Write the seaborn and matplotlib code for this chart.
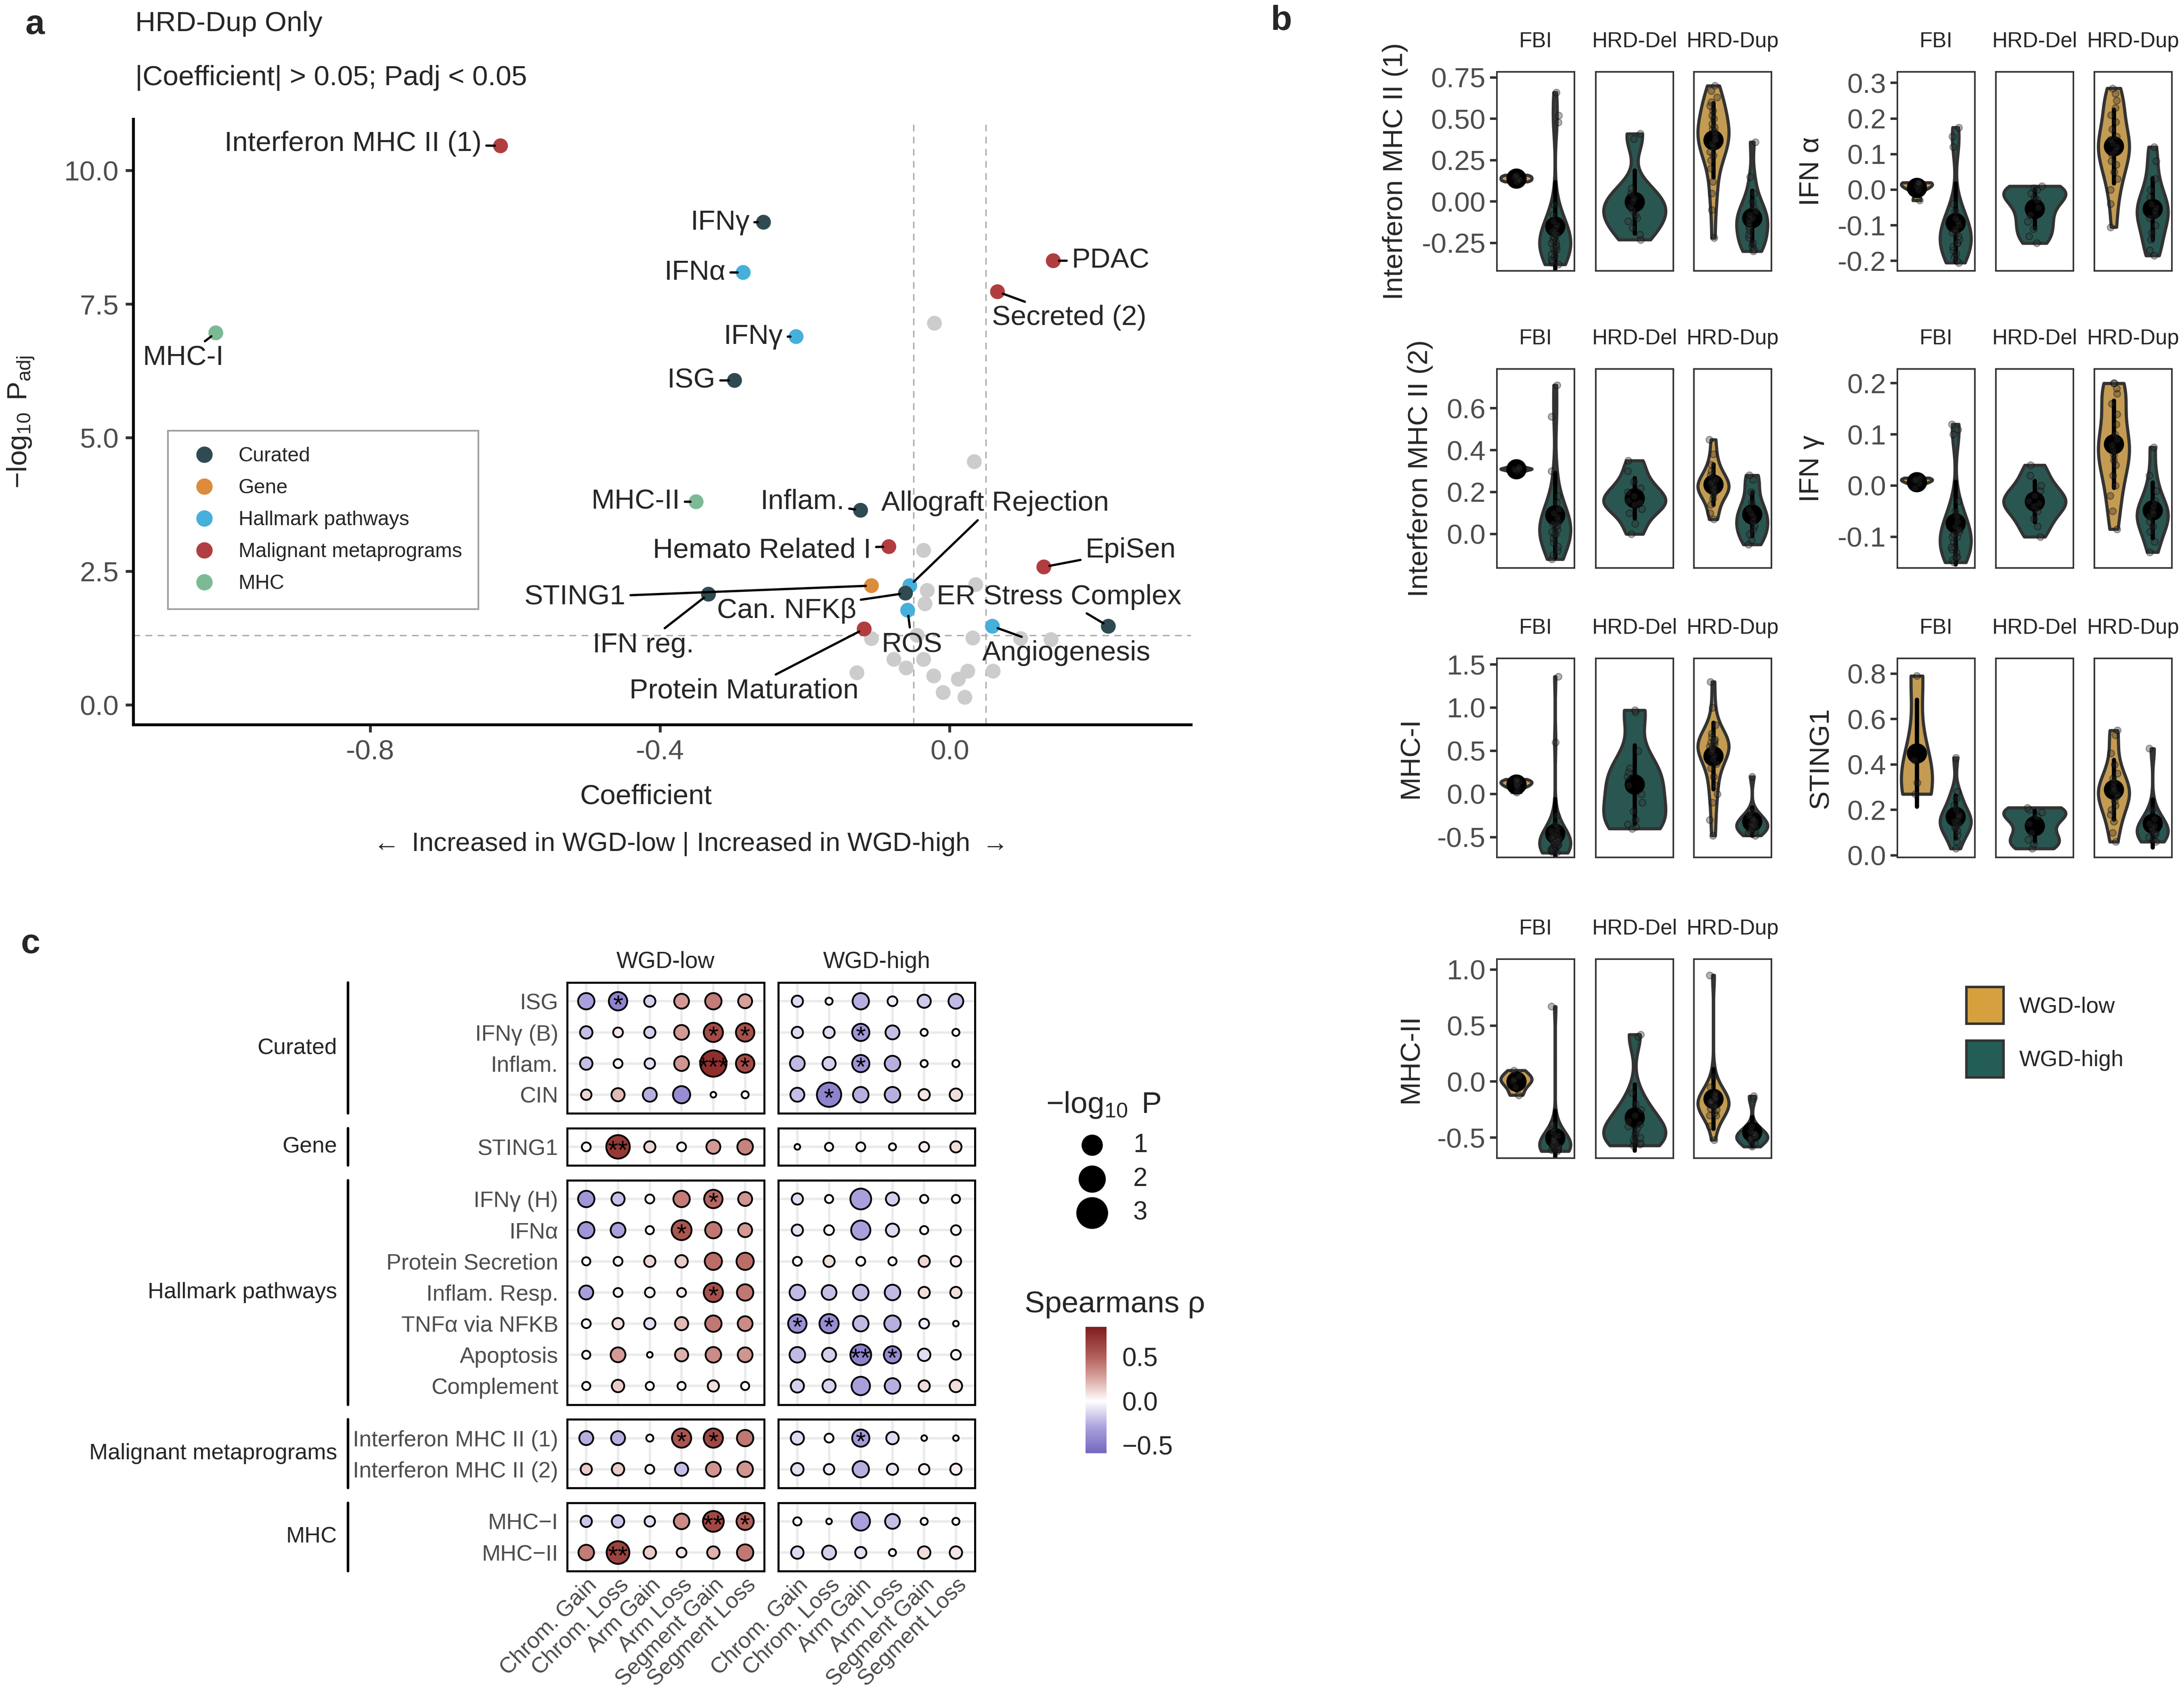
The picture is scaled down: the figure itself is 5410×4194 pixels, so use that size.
import numpy as np
import pandas as pd
import seaborn as sns
import matplotlib.pyplot as plt
from matplotlib.colors import LinearSegmentedColormap, Normalize, FuncNorm
from matplotlib.cm import ScalarMappable
from matplotlib.patches import Patch
from matplotlib.lines import Line2D

sns.set_style("white")
plt.rcParams["font.family"] = ["Liberation Sans", "DejaVu Sans"]
plt.rcParams["mathtext.fontset"] = "custom"
plt.rcParams["mathtext.rm"] = "Liberation Sans"
plt.rcParams["mathtext.it"] = "Liberation Sans:italic"
plt.rcParams["mathtext.fallback"] = "stixsans"
plt.rcParams["axes.unicode_minus"] = False
np.random.seed(3)  # only for the strip-plot jitter

# ---------------- panel a : volcano ----------------
sig_names = ["Interferon MHC II (1)", "MHC-I", "IFNγ", "IFNα", "IFNγ", "ISG", "PDAC",
             "Secreted (2)", "MHC-II", "Inflam.", "Hemato Related I", "EpiSen", "STING1",
             "IFN reg.", "Allograft Rejection", "Can. NFKβ", "ROS", "ER Stress Complex",
             "Angiogenesis", "Protein Maturation"]
sig_source = ["Malignant metaprograms", "MHC", "Curated", "Hallmark pathways", "Hallmark pathways",
              "Curated", "Malignant metaprograms", "Malignant metaprograms", "MHC", "Curated",
              "Malignant metaprograms", "Malignant metaprograms", "Gene", "Curated",
              "Hallmark pathways", "Curated", "Hallmark pathways", "Curated",
              "Hallmark pathways", "Malignant metaprograms"]
sig_coef = [-0.620, -1.013, -0.257, -0.285, -0.212, -0.297, 0.143, 0.066, -0.350, -0.123,
            -0.084, 0.130, -0.108, -0.333, -0.055, -0.061, -0.058, 0.219, 0.059, -0.118]
sig_logp = [10.46, 6.96, 9.03, 8.09, 6.89, 6.07, 8.31, 7.73, 3.80, 3.64,
            2.96, 2.58, 2.23, 2.07, 2.23, 2.09, 1.77, 1.47, 1.47, 1.42]
ns_coef = [-0.021, 0.034, -0.036, -0.031, -0.034, 0.036, -0.108, 0.032, 0.098, 0.140,
           -0.077, -0.060, -0.036, -0.128, -0.022, 0.012, 0.025, 0.060, -0.009, 0.021, -0.045]
ns_logp = [7.14, 4.55, 2.89, 2.14, 1.89, 2.25, 1.24, 1.25, 1.24, 1.22,
           0.85, 0.69, 0.85, 0.60, 0.54, 0.48, 0.63, 0.63, 0.23, 0.14, 1.30]
source_order = ["Curated", "Gene", "Hallmark pathways", "Malignant metaprograms", "MHC"]
source_colors = ["#2f4a50", "#dc8c3c", "#47afdc", "#b23d40", "#7cba95"]

# label placement (data coords) and alignment
lab_x = [-0.646, -1.058, -0.276, -0.309, -0.230, -0.323, 0.168, 0.058, -0.372, -0.145,
         -0.108, 0.187, -0.447, -0.423, 0.063, -0.129, -0.052, 0.151, 0.161, -0.284]
lab_y = [10.50, 6.49, 9.03, 8.09, 6.89, 6.07, 8.31, 7.24, 3.80, 3.80,
         2.89, 2.89, 2.01, 1.12, 3.77, 1.76, 1.12, 2.02, 0.97, 0.26]
lab_ha = ["right", "center", "right", "right", "right", "right", "left", "left", "right", "right",
          "right", "left", "right", "center", "center", "right", "center", "center", "center", "center"]

# ---------------- panel b : violins ----------------
subtypes = ["FBI", "HRD-Del", "HRD-Dup"]
wgd_levels = ["WGD-low", "WGD-high"]
wgd_colors = ["#d6a03f", "#235d56"]
b_titles = ["Interferon MHC II (1)", "IFN α", "Interferon MHC II (2)", "IFN γ",
            "MHC-I", "STING1", "MHC-II"]

v_imhc1 = {
    ("FBI", "WGD-low"): [0.12, 0.14, 0.15, 0.16, 0.13],
    ("FBI", "WGD-high"): [-0.38, -0.37, -0.36, -0.35, -0.33, -0.32, -0.30, -0.29, -0.28, -0.27, -0.26,
                          -0.25, -0.24, -0.23, -0.22, -0.21, -0.20, -0.19, -0.18, -0.16, -0.14, -0.12,
                          -0.08, -0.02, 0.48, 0.52, 0.66],
    ("HRD-Del", "WGD-high"): [-0.23, -0.20, -0.16, -0.12, -0.10, -0.08, -0.05, -0.03, 0.00, 0.02, 0.05,
                              0.08, 0.38, 0.41],
    ("HRD-Dup", "WGD-low"): [-0.22, -0.05, 0.05, 0.12, 0.20, 0.25, 0.28, 0.30, 0.33, 0.35, 0.37, 0.38,
                             0.40, 0.42, 0.44, 0.45, 0.47, 0.50, 0.52, 0.55, 0.58, 0.60, 0.63, 0.67, 0.70],
    ("HRD-Dup", "WGD-high"): [-0.30, -0.29, -0.27, -0.25, -0.22, -0.20, -0.17, -0.15, -0.13, -0.11,
                              -0.10, -0.08, -0.06, -0.03, 0.00, 0.05, 0.15, 0.36],
}
v_ifna = {
    ("FBI", "WGD-low"): [-0.03, 0.00, 0.01, 0.015, 0.02, 0.02],
    ("FBI", "WGD-high"): [-0.205, -0.20, -0.19, -0.18, -0.17, -0.16, -0.15, -0.15, -0.14, -0.13, -0.12,
                          -0.12, -0.11, -0.10, -0.09, -0.08, -0.06, -0.04, 0.12, 0.15, 0.175],
    ("HRD-Del", "WGD-high"): [-0.15, -0.13, -0.11, -0.09, -0.07, -0.05, -0.03, -0.02, -0.01, 0.00, 0.01, 0.005],
    ("HRD-Dup", "WGD-low"): [-0.105, -0.04, 0.00, 0.03, 0.05, 0.07, 0.08, 0.10, 0.11, 0.12, 0.13, 0.14,
                             0.15, 0.17, 0.19, 0.21, 0.23, 0.25, 0.27, 0.285],
    ("HRD-Dup", "WGD-high"): [-0.185, -0.17, -0.14, -0.12, -0.10, -0.08, -0.07, -0.06, -0.05, -0.04,
                              -0.02, 0.00, 0.03, 0.08, 0.12],
}
v_imhc2 = {
    ("FBI", "WGD-low"): [0.30, 0.31, 0.31, 0.32],
    ("FBI", "WGD-high"): [-0.12, -0.10, -0.08, -0.06, -0.04, -0.02, 0.00, 0.00, 0.01, 0.02, 0.03, 0.04,
                          0.05, 0.06, 0.08, 0.10, 0.12, 0.15, 0.18, 0.30, 0.56, 0.71],
    ("HRD-Del", "WGD-high"): [0.00, 0.05, 0.10, 0.12, 0.14, 0.15, 0.16, 0.18, 0.20, 0.22, 0.25, 0.30, 0.35],
    ("HRD-Dup", "WGD-low"): [0.07, 0.10, 0.14, 0.17, 0.19, 0.20, 0.21, 0.22, 0.23, 0.24, 0.25, 0.26,
                             0.28, 0.30, 0.33, 0.38, 0.45],
    ("HRD-Dup", "WGD-high"): [-0.05, -0.03, 0.00, 0.02, 0.04, 0.06, 0.08, 0.10, 0.12, 0.15, 0.20, 0.26, 0.28],
}
v_ifng = {
    ("FBI", "WGD-low"): [-0.005, 0.005, 0.01, 0.012, 0.015],
    ("FBI", "WGD-high"): [-0.15, -0.145, -0.14, -0.14, -0.13, -0.125, -0.12, -0.12, -0.11, -0.10, -0.10,
                          -0.095, -0.09, -0.085, -0.08, -0.07, -0.06, -0.05, -0.03, 0.10, 0.11, 0.12],
    ("HRD-Del", "WGD-high"): [-0.10, -0.08, -0.065, -0.05, -0.04, -0.035, -0.03, -0.02, -0.01, 0.00, 0.02, 0.04],
    ("HRD-Dup", "WGD-low"): [-0.085, -0.05, -0.02, 0.00, 0.02, 0.04, 0.05, 0.06, 0.07, 0.08, 0.09, 0.10,
                             0.12, 0.14, 0.16, 0.18, 0.19, 0.20, 0.20],
    ("HRD-Dup", "WGD-high"): [-0.13, -0.11, -0.09, -0.08, -0.07, -0.06, -0.055, -0.05, -0.04, -0.03,
                              -0.01, 0.02, 0.075],
}
v_mhc1 = {
    ("FBI", "WGD-low"): [0.02, 0.08, 0.10, 0.12, 0.14, 0.15, 0.17],
    ("FBI", "WGD-high"): [-0.68, -0.67, -0.66, -0.66, -0.65, -0.64, -0.63, -0.62, -0.62, -0.61, -0.60,
                          -0.60, -0.59, -0.58, -0.58, -0.57, -0.56, -0.55, -0.55, -0.54, -0.53, -0.52,
                          -0.51, -0.50, -0.48, -0.46, -0.43, -0.40, -0.35, -0.25, 0.60, 1.36],
    ("HRD-Del", "WGD-high"): [-0.40, -0.38, -0.35, -0.30, -0.20, -0.10, 0.00, 0.10, 0.20, 0.25, 0.30,
                              0.50, 0.95, 0.97],
    ("HRD-Dup", "WGD-low"): [-0.48, -0.30, -0.10, 0.00, 0.10, 0.20, 0.30, 0.35, 0.40, 0.45, 0.48, 0.50,
                             0.52, 0.55, 0.55, 0.58, 0.60, 0.60, 0.62, 0.63, 0.66, 0.70, 0.80, 1.00, 1.30],
    ("HRD-Dup", "WGD-high"): [-0.48, -0.45, -0.44, -0.42, -0.40, -0.38, -0.37, -0.36, -0.34, -0.32,
                              -0.30, -0.28, -0.25, -0.20, 0.20],
}
v_sting = {
    ("FBI", "WGD-low"): [0.27, 0.32, 0.42, 0.79],
    ("FBI", "WGD-high"): [0.03, 0.06, 0.09, 0.11, 0.12, 0.13, 0.14, 0.15, 0.16, 0.17, 0.18, 0.20,
                          0.22, 0.25, 0.28, 0.43],
    ("HRD-Del", "WGD-high"): [0.03, 0.05, 0.07, 0.10, 0.14, 0.17, 0.19, 0.20, 0.21],
    ("HRD-Dup", "WGD-low"): [0.06, 0.10, 0.15, 0.18, 0.20, 0.22, 0.24, 0.26, 0.27, 0.28, 0.29, 0.30,
                             0.32, 0.34, 0.36, 0.40, 0.45, 0.53, 0.55],
    ("HRD-Dup", "WGD-high"): [0.06, 0.07, 0.08, 0.09, 0.10, 0.10, 0.11, 0.12, 0.13, 0.14, 0.16, 0.20, 0.47],
}
v_mhc2 = {
    ("FBI", "WGD-low"): [-0.12, -0.05, 0.00, 0.02, 0.05, 0.10],
    ("FBI", "WGD-high"): [-0.62, -0.61, -0.61, -0.60, -0.60, -0.60, -0.60, -0.59, -0.59, -0.58, -0.58,
                          -0.58, -0.57, -0.57, -0.56, -0.55, -0.55, -0.54, -0.53, -0.52, -0.50, -0.48,
                          -0.45, -0.42, -0.38, 0.67],
    ("HRD-Del", "WGD-high"): [-0.57, -0.56, -0.55, -0.54, -0.52, -0.50, -0.48, -0.45, -0.42, -0.40, -0.38,
                              -0.35, -0.30, -0.25, -0.20, -0.10, 0.40, 0.42],
    ("HRD-Dup", "WGD-low"): [-0.52, -0.40, -0.30, -0.30, -0.28, -0.25, -0.24, -0.22, -0.21, -0.20, -0.20,
                             -0.19, -0.18, -0.18, -0.17, -0.16, -0.15, -0.14, -0.12, -0.10, -0.05, 0.05, 0.95],
    ("HRD-Dup", "WGD-high"): [-0.58, -0.55, -0.53, -0.52, -0.51, -0.50, -0.50, -0.49, -0.48, -0.47, -0.46,
                              -0.44, -0.40, -0.15, -0.13],
}
b_values = [v_imhc1, v_ifna, v_imhc2, v_ifng, v_mhc1, v_sting, v_mhc2]
b_ticks = [[-0.25, 0, 0.25, 0.5, 0.75], [-0.2, -0.1, 0, 0.1, 0.2, 0.3], [0, 0.2, 0.4, 0.6],
           [-0.1, 0, 0.1, 0.2], [-0.5, 0, 0.5, 1.0, 1.5], [0, 0.2, 0.4, 0.6, 0.8], [-0.5, 0, 0.5, 1.0]]
b_fmt = ["%.2f", "%.1f", "%.1f", "%.1f", "%.1f", "%.1f", "%.1f"]
b_ylim = [(-0.419, 0.784), (-0.228, 0.331), (-0.162, 0.787), (-0.161, 0.228),
          (-0.734, 1.57), (-0.009, 0.867), (-0.683, 1.093)]

# ---------------- panel c : dot plot ----------------
cna_cols = ["Chrom. Gain", "Chrom. Loss", "Arm Gain", "Arm Loss", "Segment Gain", "Segment Loss"]
c_groups = ["Curated", "Gene", "Hallmark pathways", "Malignant metaprograms", "MHC"]
c_rows = [["ISG", "IFNγ (B)", "Inflam.", "CIN"],
          ["STING1"],
          ["IFNγ (H)", "IFNα", "Protein Secretion", "Inflam. Resp.", "TNFα via NFKB", "Apoptosis", "Complement"],
          ["Interferon MHC II (1)", "Interferon MHC II (2)"],
          ["MHC−I", "MHC−II"]]
rho_low = [
    [-0.30, -0.45, -0.15, 0.30, 0.40, 0.28],
    [-0.20, 0.08, -0.15, 0.30, 0.60, 0.58],
    [-0.20, -0.03, -0.10, 0.32, 0.75, 0.60],
    [0.12, 0.20, -0.25, -0.40, 0.00, 0.02],
    [0.02, 0.70, 0.12, 0.03, 0.30, 0.38],
    [-0.35, -0.20, -0.03, 0.40, 0.48, 0.32],
    [-0.35, -0.30, 0.02, 0.55, 0.42, 0.30],
    [0.00, -0.04, 0.12, 0.15, 0.45, 0.45],
    [-0.30, 0.04, -0.04, 0.06, 0.58, 0.42],
    [0.02, 0.10, -0.10, 0.20, 0.42, 0.35],
    [0.02, 0.30, 0.00, 0.22, 0.35, 0.32],
    [0.02, 0.15, 0.00, 0.02, 0.10, 0.00],
    [-0.25, -0.25, 0.01, 0.55, 0.62, 0.42],
    [0.15, 0.15, 0.02, -0.20, 0.32, 0.32],
    [-0.18, -0.18, -0.10, 0.35, 0.62, 0.50],
    [0.40, 0.65, 0.15, 0.08, 0.22, 0.42],
]
logp_low = [
    [0.55, 0.78, 0.15, 0.40, 0.55, 0.33],
    [0.22, 0.08, 0.15, 0.40, 0.88, 0.78],
    [0.22, 0.05, 0.11, 0.40, 2.05, 0.78],
    [0.11, 0.27, 0.33, 0.64, 0.00, 0.01],
    [0.05, 1.53, 0.15, 0.05, 0.33, 0.47],
    [0.55, 0.27, 0.05, 0.55, 0.78, 0.33],
    [0.55, 0.40, 0.03, 0.98, 0.55, 0.33],
    [0.03, 0.05, 0.15, 0.22, 0.64, 0.64],
    [0.33, 0.05, 0.08, 0.05, 0.88, 0.55],
    [0.05, 0.15, 0.15, 0.27, 0.55, 0.40],
    [0.03, 0.40, 0.00, 0.27, 0.47, 0.40],
    [0.03, 0.22, 0.03, 0.03, 0.15, 0.03],
    [0.33, 0.33, 0.01, 0.88, 0.88, 0.55],
    [0.15, 0.22, 0.05, 0.27, 0.40, 0.47],
    [0.15, 0.22, 0.11, 0.47, 1.10, 0.64],
    [0.47, 1.40, 0.22, 0.08, 0.22, 0.55],
]
rho_high = [
    [-0.12, -0.02, -0.25, -0.05, -0.17, -0.22],
    [-0.12, -0.12, -0.35, -0.20, -0.02, 0.00],
    [-0.22, -0.15, -0.35, -0.25, -0.01, 0.00],
    [-0.20, -0.45, -0.25, -0.25, 0.08, 0.10],
    [0.00, 0.02, 0.03, 0.01, 0.05, 0.10],
    [-0.12, -0.02, -0.30, -0.15, -0.01, 0.00],
    [-0.10, 0.03, -0.30, -0.12, 0.00, -0.04],
    [0.02, 0.10, 0.01, 0.00, 0.12, 0.05],
    [-0.22, -0.20, -0.22, -0.22, 0.10, 0.10],
    [-0.38, -0.40, -0.22, -0.25, -0.05, 0.00],
    [-0.22, -0.15, -0.45, -0.40, -0.10, -0.04],
    [-0.15, -0.14, -0.30, -0.25, 0.10, 0.10],
    [-0.12, 0.00, -0.33, -0.12, 0.00, 0.00],
    [-0.10, -0.06, -0.25, -0.08, 0.04, 0.05],
    [0.00, 0.00, -0.30, -0.20, 0.00, 0.00],
    [-0.12, -0.15, -0.10, 0.00, 0.10, 0.08],
]
logp_high = [
    [0.15, 0.01, 0.55, 0.08, 0.27, 0.40],
    [0.15, 0.15, 0.64, 0.33, 0.01, 0.01],
    [0.40, 0.27, 0.64, 0.47, 0.01, 0.01],
    [0.33, 1.67, 0.47, 0.47, 0.15, 0.22],
    [0.00, 0.03, 0.05, 0.01, 0.08, 0.15],
    [0.15, 0.03, 1.10, 0.27, 0.03, 0.03],
    [0.15, 0.08, 0.88, 0.27, 0.03, 0.08],
    [0.05, 0.15, 0.05, 0.03, 0.15, 0.11],
    [0.47, 0.40, 0.47, 0.47, 0.15, 0.15],
    [0.78, 0.88, 0.47, 0.55, 0.08, 0.00],
    [0.47, 0.33, 1.10, 0.64, 0.22, 0.08],
    [0.27, 0.27, 0.78, 0.47, 0.15, 0.22],
    [0.27, 0.05, 0.64, 0.22, 0.00, 0.00],
    [0.22, 0.11, 0.55, 0.15, 0.11, 0.15],
    [0.03, 0.00, 0.78, 0.40, 0.01, 0.01],
    [0.22, 0.33, 0.15, 0.01, 0.22, 0.22],
]
# (row name, WGD facet, column, stars)
c_stars = [("ISG", "WGD-low", "Chrom. Loss", "*"),
           ("IFNγ (B)", "WGD-low", "Segment Gain", "*"), ("IFNγ (B)", "WGD-low", "Segment Loss", "*"),
           ("IFNγ (B)", "WGD-high", "Arm Gain", "*"),
           ("Inflam.", "WGD-low", "Segment Gain", "***"), ("Inflam.", "WGD-low", "Segment Loss", "*"),
           ("Inflam.", "WGD-high", "Arm Gain", "*"),
           ("CIN", "WGD-high", "Chrom. Loss", "*"),
           ("STING1", "WGD-low", "Chrom. Loss", "**"),
           ("IFNγ (H)", "WGD-low", "Segment Gain", "*"),
           ("IFNα", "WGD-low", "Arm Loss", "*"),
           ("Inflam. Resp.", "WGD-low", "Segment Gain", "*"),
           ("TNFα via NFKB", "WGD-high", "Chrom. Gain", "*"), ("TNFα via NFKB", "WGD-high", "Chrom. Loss", "*"),
           ("Apoptosis", "WGD-high", "Arm Gain", "**"), ("Apoptosis", "WGD-high", "Arm Loss", "*"),
           ("Interferon MHC II (1)", "WGD-low", "Arm Loss", "*"),
           ("Interferon MHC II (1)", "WGD-low", "Segment Gain", "*"),
           ("Interferon MHC II (1)", "WGD-high", "Arm Gain", "*"),
           ("MHC−I", "WGD-low", "Segment Gain", "**"), ("MHC−I", "WGD-low", "Segment Loss", "*"),
           ("MHC−II", "WGD-low", "Chrom. Loss", "**")]
rho_limits = (-0.59, 0.84)
rho_stops = [-0.59, -0.30, 0.0, 0.25, 0.50, 0.84]
rho_stop_colors = ["#7467bf", "#a9a1dc", "#ffffff", "#dba9a4", "#b3605b", "#7f1d1d"]
p_legend = [1, 2, 3]
p_max = 3.3

# ================= drawing =================
W, H = 5410, 4194
fig = plt.figure(figsize=(W / 200, H / 200), dpi=200)


def fx(x):
    return x / W


def fy(y):
    return 1 - y / H


def px_axes(x0, y0, x1, y1):
    return fig.add_axes([fx(x0), fy(y1), (x1 - x0) / W, (y1 - y0) / H])


TICK_GRAY = "#4d4d4d"

# ---- panel a ----
ax = px_axes(330, 295, 2950, 1795)
ns_df = pd.DataFrame({"coef": ns_coef, "logp": ns_logp})
sig_df = pd.DataFrame({"name": sig_names, "source": sig_source, "coef": sig_coef, "logp": sig_logp})
ax.axvline(-0.05, color="#aaaaaa", lw=1.2, ls=(0, (5, 4)), zorder=1)
ax.axvline(0.05, color="#aaaaaa", lw=1.2, ls=(0, (5, 4)), zorder=1)
ax.axhline(-np.log10(0.05), color="#aaaaaa", lw=1.2, ls=(0, (5, 4)), zorder=1)
sns.scatterplot(data=ns_df, x="coef", y="logp", color="#cccccc", s=175, edgecolor="none",
                legend=False, ax=ax, zorder=2)
sns.scatterplot(data=sig_df, x="coef", y="logp", hue="source", hue_order=source_order,
                palette=source_colors, s=175, edgecolor="none", ax=ax, zorder=3)
for name, x, y, lx, ly, ha in zip(sig_names, sig_coef, sig_logp, lab_x, lab_y, lab_ha):
    ax.annotate(name, xy=(x, y), xytext=(lx, ly), ha=ha, va="center", fontsize=25, zorder=4,
                arrowprops=dict(arrowstyle="-", color="black", lw=2.0, shrinkA=2, shrinkB=5))
ax.set_xlim(-1.127, 0.333)
ax.set_ylim(-0.37, 10.96)
ax.set_xticks([-0.8, -0.4, 0.0])
ax.set_yticks([0, 2.5, 5, 7.5, 10])
ax.set_xticklabels(["%.1f" % t for t in [-0.8, -0.4, 0.0]])
ax.set_yticklabels(["%.1f" % t for t in [0, 2.5, 5, 7.5, 10]])
ax.tick_params(axis="both", length=7, width=2.5, color="#333333", labelsize=25,
               labelcolor=TICK_GRAY, left=True, bottom=True, pad=6)
for s in ["top", "right"]:
    ax.spines[s].set_visible(False)
for s in ["left", "bottom"]:
    ax.spines[s].set_linewidth(2.6)
    ax.spines[s].set_color("black")
ax.set_xlabel("")
ax.set_ylabel("")
handles, labels = ax.get_legend_handles_labels()
leg = ax.legend(handles, labels, loc="upper left", bbox_to_anchor=(0.0328, 0.4853), borderaxespad=0,
                frameon=True, fancybox=False, edgecolor="#888888", fontsize=18, markerscale=1.1,
                handletextpad=0.7, labelspacing=0.66, borderpad=0.8)
leg.get_frame().set_linewidth(1.5)
fig.text(fx(52), fy(1045), r"$-\log_{10}\ \mathrm{P_{adj}}$", rotation=90, ha="center", va="center", fontsize=25)
fig.text(fx(1600), fy(1973), "Coefficient", ha="center", va="center", fontsize=25)
fig.text(fx(1700), fy(2091), r"$\leftarrow$ Increased in WGD-low | Increased in WGD-high $\rightarrow$",
         ha="center", va="center", fontsize=23.5)
fig.text(fx(335), fy(59), "HRD-Dup Only", ha="left", va="center", fontsize=25)
fig.text(fx(335), fy(193), "|Coefficient| > 0.05; Padj < 0.05", ha="left", va="center", fontsize=25)
fig.text(fx(86), fy(62), "a", ha="center", va="center", fontsize=31, fontweight="bold")
fig.text(fx(3174), fy(52), "b", ha="center", va="center", fontsize=31, fontweight="bold")
fig.text(fx(76), fy(2339), "c", ha="center", va="center", fontsize=31, fontweight="bold")

# ---- panel b ----
rows_long = []
for title, vals in zip(b_titles, b_values):
    for (st, w), arr in vals.items():
        for v in arr:
            rows_long.append((title, st, w, v))
bdf = pd.DataFrame(rows_long, columns=["sig", "subtype", "wgd", "val"])
pal = dict(zip(wgd_levels, wgd_colors))

row_tops = [178, 914, 1631, 2376]
col_x0 = [[3708, 3953, 4196], [4700, 4944, 5188]]
fw, fh = 192, 493
for k, title in enumerate(b_titles):
    r, c = k // 2, k % 2
    for j, st in enumerate(subtypes):
        sub = bdf[(bdf.sig == title) & (bdf.subtype == st)]
        present = [w for w in wgd_levels if w in set(sub.wgd)]
        x0 = col_x0[c][j]
        bax = px_axes(x0, row_tops[r], x0 + fw, row_tops[r] + fh)
        sns.violinplot(data=sub, x="wgd", y="val", hue="wgd", order=present, hue_order=present,
                       palette=pal, dodge=False, density_norm="width", cut=0, inner=None, width=0.8,
                       bw_adjust=0.8, linewidth=2.8, linecolor="#333333", legend=False, ax=bax)
        sns.stripplot(data=sub, x="wgd", y="val", order=present, color="#333333", alpha=0.35, size=6,
                      linewidth=1, edgecolor="black", jitter=0.1, ax=bax, zorder=3)
        sns.pointplot(data=sub, x="wgd", y="val", order=present, errorbar="sd", color="black",
                      markersize=16, linestyle="none", err_kws={"linewidth": 3.8}, ax=bax)
        bax.set_xlim(-0.5, len(present) - 0.5)
        bax.set_ylim(b_ylim[k])
        bax.set_xticks([])
        bax.set_xlabel("")
        bax.set_ylabel("")
        bax.set_title(st, fontsize=19, pad=22)
        for s in bax.spines.values():
            s.set_visible(True)
            s.set_color("#333333")
            s.set_linewidth(1.4)
        if j == 0:
            bax.set_yticks(b_ticks[k])
            bax.set_yticklabels([b_fmt[k] % t for t in b_ticks[k]])
            bax.tick_params(axis="y", left=True, length=6, width=2.2, color="#333333", labelsize=25,
                            labelcolor=TICK_GRAY, pad=4)
            bax.set_ylabel(title, fontsize=25, labelpad=12)
        else:
            bax.set_yticks([])

fig.legend(handles=[Patch(facecolor=col, edgecolor="#333333", linewidth=2.2, label=w)
                    for w, col in zip(wgd_levels, wgd_colors)],
           loc="upper left", bbox_to_anchor=(fx(4871), fy(2445)), frameon=False, borderpad=0,
           borderaxespad=0, fontsize=20, handlelength=1.65, handleheight=2.15, handletextpad=0.7,
           labelspacing=0.75)

# ---- panel c ----
t_stops = [(v - rho_limits[0]) / (rho_limits[1] - rho_limits[0]) for v in rho_stops]
cmap = LinearSegmentedColormap.from_list("rho", list(zip(t_stops, rho_stop_colors)))
norm = Normalize(*rho_limits)


# ggplot-like size scale: diameter grows with sqrt(-log10 P)
def _size_fwd(p):
    return (14 + 65 * np.sqrt(np.clip(p, 0, None) / p_max)) ** 2


def _size_inv(a):
    return p_max * ((np.sqrt(a) - 14) / 65) ** 2


size_norm = FuncNorm((_size_fwd, _size_inv), vmin=0, vmax=p_max)
pt_per_px2 = (72 / 200) ** 2
size_range = (14 ** 2 * pt_per_px2, 79 ** 2 * pt_per_px2)

recs = []
i = 0
for g, rnames in zip(c_groups, c_rows):
    for rn in rnames:
        for ci, cn in enumerate(cna_cols):
            recs.append((g, rn, "WGD-low", cn, rho_low[i][ci], logp_low[i][ci]))
            recs.append((g, rn, "WGD-high", cn, rho_high[i][ci], logp_high[i][ci]))
        i += 1
cdf = pd.DataFrame(recs, columns=["group", "sig", "wgd", "cna", "rho", "logp"])

unit = 77.2
gap = 36.5
top = 2434
facet_x = {"WGD-low": (1405, 1893), "WGD-high": (1928, 2415)}
for gi, (g, rnames) in enumerate(zip(c_groups, c_rows)):
    n = len(rnames)
    hgt = (n - 1 + 1.2) * unit
    for w in wgd_levels:
        xa, xb = facet_x[w]
        cax_ = px_axes(xa, top, xb, top + hgt)
        sub = cdf[(cdf.group == g) & (cdf.wgd == w)]
        sns.scatterplot(data=sub, x="cna", y="sig", hue="rho", size="logp", palette=cmap, hue_norm=norm,
                        sizes=size_range, size_norm=size_norm, edgecolor="black", linewidth=1.6,
                        legend=False, ax=cax_, zorder=3)
        cax_.set_xlim(-0.6, 5.6)
        cax_.set_ylim(n - 1 + 0.6, -0.6)
        cax_.grid(True, color="#ebebeb", lw=2.2)
        cax_.set_axisbelow(True)
        cax_.set_xlabel("")
        cax_.set_ylabel("")
        for s in cax_.spines.values():
            s.set_visible(True)
            s.set_color("black")
            s.set_linewidth(1.8)
        cax_.tick_params(length=0, labelsize=20, labelcolor=TICK_GRAY)
        if w == "WGD-high":
            cax_.tick_params(labelleft=False)
        else:
            cax_.tick_params(axis="y", pad=8)
        if gi == len(c_groups) - 1:
            cax_.tick_params(axis="x", pad=3, labelsize=20)
            for lab in cax_.get_xticklabels():
                lab.set_rotation(45)
                lab.set_ha("right")
                lab.set_va("top")
                lab.set_rotation_mode("anchor")
        else:
            cax_.tick_params(labelbottom=False)
        for (sn, sw, scol, stxt) in c_stars:
            if sw == w and sn in rnames:
                cax_.text(cna_cols.index(scol), rnames.index(sn) + 0.16, stxt, ha="center", va="center",
                          fontsize=23, color="black", zorder=5)
        if gi == 0:
            fig.text(fx((xa + xb) / 2), fy(2383), w, ha="center", va="center", fontsize=20.5)
    fig.add_artist(Line2D([fx(862), fx(862)], [fy(top), fy(top + hgt)], color="black", lw=2.3))
    fig.text(fx(835), fy(top + hgt / 2), g, ha="right", va="center", fontsize=20)
    top += hgt + gap

# size legend
fig.text(fx(2591), fy(2737), r"$-\log_{10}\ \mathrm{P}$", ha="left", va="center", fontsize=27)
lax = px_axes(2646, 2795, 2884, 3047)
ldf = pd.DataFrame({"k": ["key"] * len(p_legend), "lab": [str(p) for p in p_legend], "logp": p_legend})
sns.scatterplot(data=ldf, x="k", y="lab", size="logp", sizes=size_range, size_norm=size_norm,
                color="black", edgecolor="black", linewidth=1.0, legend=False, ax=lax)
lax.set_xlim(-0.5, 1.5)
lax.set_ylim(len(p_legend) - 0.5, -0.5)
for yi, p in enumerate(p_legend):
    lax.text(1, yi, str(p), ha="center", va="center", fontsize=23)
lax.axis("off")

# colour bar
fig.text(fx(2538), fy(3231), "Spearmans ρ", ha="left", va="center", fontsize=27)
cbax = px_axes(2689, 3287, 2741, 3600)
cb = fig.colorbar(ScalarMappable(norm=norm, cmap=cmap), cax=cbax, ticks=[-0.5, 0.0, 0.5])
cb.outline.set_visible(False)
cb.ax.set_yticklabels(["−0.5", "0.0", "0.5"])
cb.ax.tick_params(color="white", direction="in", length=8, width=1.2, labelsize=23, pad=14)

fig.savefig("out.png", dpi=200, facecolor="white")
